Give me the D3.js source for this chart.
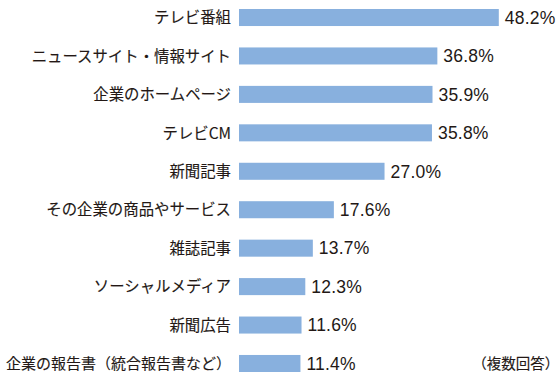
<!DOCTYPE html>
<html>
<head>
<meta charset="utf-8">
<script src="https://cdn.jsdelivr.net/npm/d3@7"></script>
<style>
  html, body { margin: 0; padding: 0; background: #fff; }
  svg { display: block; }
</style>
</head>
<body>
<svg id="chart" width="560" height="380"></svg>
<script>
const categories = [
  "テレビ番組",
  "ニュースサイト・情報サイト",
  "企業のホームページ",
  "テレビCM",
  "新聞記事",
  "その企業の商品やサービス",
  "雑誌記事",
  "ソーシャルメディア",
  "新聞広告",
  "企業の報告書（統合報告書など）"
];
const values = [48.2, 36.8, 35.9, 35.8, 27.0, 17.6, 13.7, 12.3, 11.6, 11.4];
const note = "（複数回答）";

const svg = d3.select("#chart");
const barColor = "#88b0de";
const textColor = "#231815";

const x = d3.scaleLinear().domain([0, 50]).range([239, 239 + 269.5]);
const y = d3.scaleBand().domain(categories).range([9, 372]).paddingInner(0.557).paddingOuter(0);

const data = categories.map((c, i) => ({ c, v: values[i] }));

svg.selectAll("rect.bar").data(data).join("rect")
  .attr("class", "bar")
  .attr("x", x(0))
  .attr("y", d => y(d.c))
  .attr("width", d => x(d.v) - x(0))
  .attr("height", y.bandwidth())
  .attr("fill", barColor);

svg.selectAll("text.cat").data(data).join("text")
  .attr("class", "cat")
  .attr("x", 231)
  .attr("y", d => y(d.c) + y.bandwidth() / 2)
  .attr("dy", "0.37em")
  .attr("text-anchor", "end")
  .attr("font-family", "'Noto Sans CJK JP', sans-serif")
  .attr("font-size", d => d.c.includes("（") ? 15.0 : 15.4)
  .attr("fill", textColor)
  .attr("stroke", textColor)
  .attr("stroke-width", 0.12)
  .text(d => d.c);

svg.selectAll("text.val").data(data).join("text")
  .attr("class", "val")
  .attr("x", d => x(d.v) + 6)
  .attr("y", d => y(d.c) + y.bandwidth() / 2)
  .attr("dy", "0.36em")
  .attr("font-family", "'Liberation Sans', Arial, sans-serif")
  .attr("font-size", 17.5)
  .attr("letter-spacing", 0.2)
  .attr("fill", textColor)
  .text(d => d.v.toFixed(1) + "%");

const last = categories[categories.length - 1];
svg.append("text")
  .attr("x", 552)
  .attr("y", y(last) + y.bandwidth() / 2)
  .attr("dy", "0.37em")
  .attr("text-anchor", "end")
  .attr("font-family", "'Noto Sans CJK JP', sans-serif")
  .attr("font-size", 14.5)
  .attr("fill", textColor)
  .attr("stroke", textColor)
  .attr("stroke-width", 0.12)
  .style("font-feature-settings", "'halt'")
  .text(note);
</script>
</body>
</html>
